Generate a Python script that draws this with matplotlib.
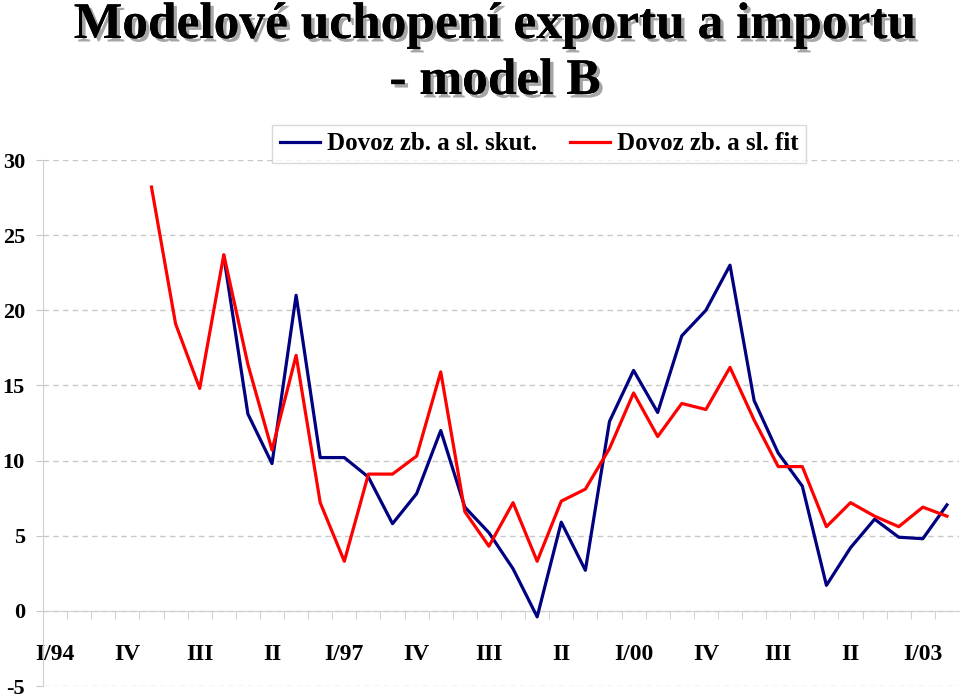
import numpy as np
import matplotlib.pyplot as plt
import matplotlib.patheffects as pe
from matplotlib.ticker import FixedLocator, MultipleLocator

# quarters I/94 .. II/03
quarters = ["I/94", "II", "III", "IV", "I/95", "II", "III", "IV",
            "I/96", "II", "III", "IV", "I/97", "II", "III", "IV",
            "I/98", "II", "III", "IV", "I/99", "II", "III", "IV",
            "I/00", "II", "III", "IV", "I/01", "II", "III", "IV",
            "I/02", "II", "III", "IV", "I/03", "II"]

nan = np.nan
# Dovoz zb. a sl. skut. (actual)
skut = [nan, nan, nan, nan, nan, nan, nan, 23.6,
        13.1, 9.8, 21.0, 10.2, 10.2, 8.9, 5.8, 7.8,
        12.0, 6.9, 5.2, 2.8, -0.4, 5.9, 2.7, 12.6,
        16.0, 13.2, 18.3, 20.0, 23.0, 14.0, 10.5, 8.3,
        1.7, 4.2, 6.1, 4.9, 4.8, 7.05]
# Dovoz zb. a sl. fit
fit = [nan, nan, nan, nan, 28.2, 19.1, 14.8, 23.7,
       16.4, 10.7, 17.0, 7.2, 3.3, 9.1, 9.1, 10.3,
       15.9, 6.6, 4.3, 7.2, 3.3, 7.3, 8.1, 10.8,
       14.5, 11.6, 13.8, 13.4, 16.2, 12.7, 9.6, 9.6,
       5.6, 7.2, 6.3, 5.6, 6.9, 6.3]

serif = ["Liberation Serif", "DejaVu Serif"]

fig = plt.figure(figsize=(9.6, 6.97), dpi=100)
ax = fig.add_axes([43 / 960, 11 / 697, 916 / 960, 526 / 697])

x = np.arange(len(quarters))
ax.plot(x, skut, color="#000080", lw=2.3, label="Dovoz zb. a sl. skut.", zorder=3)
ax.plot(x, fit, color="#FF0000", lw=2.3, label="Dovoz zb. a sl. fit", zorder=4)

ax.set_xlim(-0.5, len(quarters) - 0.5)
ax.set_ylim(-5, 30)
ax.yaxis.set_major_locator(MultipleLocator(5))
ax.grid(axis="y", color="#c8c8c8", ls=(0, (4, 3)), lw=1)

for s in ["top", "right"]:
    ax.spines[s].set_visible(False)
ax.spines["left"].set_color("#d0d0d0")
ax.spines["bottom"].set_position(("data", 0))
ax.spines["bottom"].set_color("#d0d0d0")

# labels every 3rd quarter, small ticks between categories
lab_idx = list(range(0, len(quarters), 3))
ax.set_xticks(lab_idx)
ax.set_xticklabels([quarters[i] for i in lab_idx], fontfamily=serif,
                   fontweight="bold", fontsize=17)
ax.tick_params(axis="x", which="major", length=0, pad=24)
ax.xaxis.set_minor_locator(FixedLocator(np.arange(0.5, len(quarters) - 0.5, 1)))
ax.tick_params(axis="x", which="minor", length=6, color="#c8c8c8", direction="out")

ax.set_yticks(range(-5, 31, 5))
ax.set_yticklabels([str(v) for v in range(-5, 31, 5)], fontfamily=serif,
                   fontweight="bold", fontsize=16)
ax.tick_params(axis="y", length=5, color="#c8c8c8", pad=8)

leg = ax.legend(loc="upper left", bbox_to_anchor=(272 / 960, 1 - 125 / 697),
                bbox_transform=fig.transFigure, ncol=2, frameon=True,
                fancybox=False, handlelength=1.6, columnspacing=1.3,
                handletextpad=0.3, borderpad=0.3, borderaxespad=0,
                prop={"family": serif, "weight": "bold", "size": 18})
leg.get_frame().set_edgecolor("#d0d0d0")
leg.get_frame().set_linewidth(1)

shadow = [pe.withSimplePatchShadow(offset=(2.5, -2.5), shadow_rgbFace="#808080", alpha=0.7),
          pe.Normal()]
fig.text(495 / 960, 1 - 26 / 697, "Modelové uchopení exportu a importu",
         ha="center", va="center", fontfamily=serif, fontweight="bold",
         fontsize=37, path_effects=shadow)
fig.text(495 / 960, 1 - 82 / 697, "- model B",
         ha="center", va="center", fontfamily=serif, fontweight="bold",
         fontsize=37, path_effects=shadow)

fig.savefig("out.png", dpi=100)
